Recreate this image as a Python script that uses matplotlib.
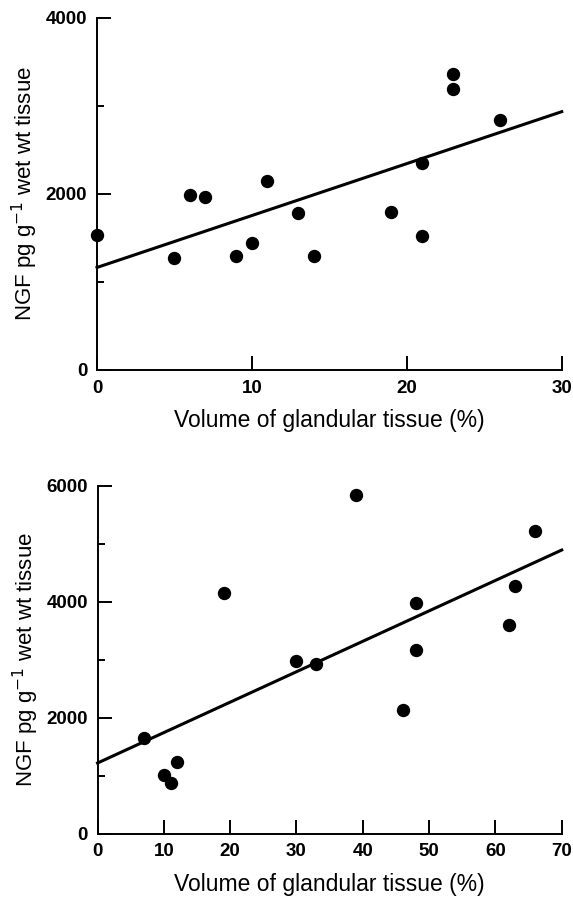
import matplotlib
matplotlib.use("Agg")
import matplotlib.pyplot as plt
from matplotlib.ticker import MultipleLocator

plt.rcParams['font.family'] = ['Liberation Sans', 'DejaVu Sans']

# top panel
top_x = [0, 5, 6, 7, 9, 10, 11, 13, 14, 19, 21, 21, 23, 23, 26]
top_y = [1530, 1270, 1990, 1970, 1300, 1445, 2145, 1785, 1300, 1790, 2350, 1525, 3365, 3190, 2840]
top_fit_x = [0, 30]
top_fit_y = [1165, 2935]

# bottom panel
bot_x = [7, 10, 11, 12, 19, 30, 33, 39, 46, 48, 48, 62, 63, 66]
bot_y = [1650, 1010, 880, 1240, 4150, 2975, 2925, 5840, 2130, 3980, 3165, 3610, 4275, 5230]
bot_fit_x = [0, 70]
bot_fit_y = [1220, 4895]

xlabel = "Volume of glandular tissue (%)"
ylabel = r"NGF pg g$^{-1}$ wet wt tissue"

fig = plt.figure(figsize=(5.73, 8.98), dpi=100)
ax1 = fig.add_axes([0.1693, 0.588, 0.811, 0.392])
ax2 = fig.add_axes([0.1703, 0.0716, 0.810, 0.3872])


def style(ax, xmax, ymax, xstep, ystep):
    ax.set_xlim(0, xmax)
    ax.set_ylim(0, ymax)
    ax.spines['top'].set_visible(False)
    ax.spines['right'].set_visible(False)
    for s in ('left', 'bottom'):
        ax.spines[s].set_linewidth(1.4)
    ax.xaxis.set_major_locator(MultipleLocator(xstep))
    ax.yaxis.set_major_locator(MultipleLocator(ystep))
    ax.yaxis.set_minor_locator(MultipleLocator(ystep / 2))
    ax.tick_params(axis='both', which='major', direction='in', length=10, width=1.4,
                   labelsize=13.5, pad=7)
    ax.tick_params(axis='y', which='minor', direction='in', length=5, width=1.4)
    for lab in ax.get_xticklabels() + ax.get_yticklabels():
        lab.set_fontweight('bold')
    ax.set_xlabel(xlabel, fontsize=16.5, labelpad=9)
    ax.set_ylabel(ylabel, fontsize=16, labelpad=4)


ax1.plot(top_x, top_y, 'o', color='black', markersize=8.6, clip_on=False, zorder=3)
ax1.plot(top_fit_x, top_fit_y, '-', color='black', linewidth=2.2, clip_on=False)
style(ax1, 30, 4000, 10, 2000)

ax2.plot(bot_x, bot_y, 'o', color='black', markersize=8.6, clip_on=False, zorder=3)
ax2.plot(bot_fit_x, bot_fit_y, '-', color='black', linewidth=2.2, clip_on=False)
style(ax2, 70, 6000, 10, 2000)

fig.savefig("out.png", dpi=100)
